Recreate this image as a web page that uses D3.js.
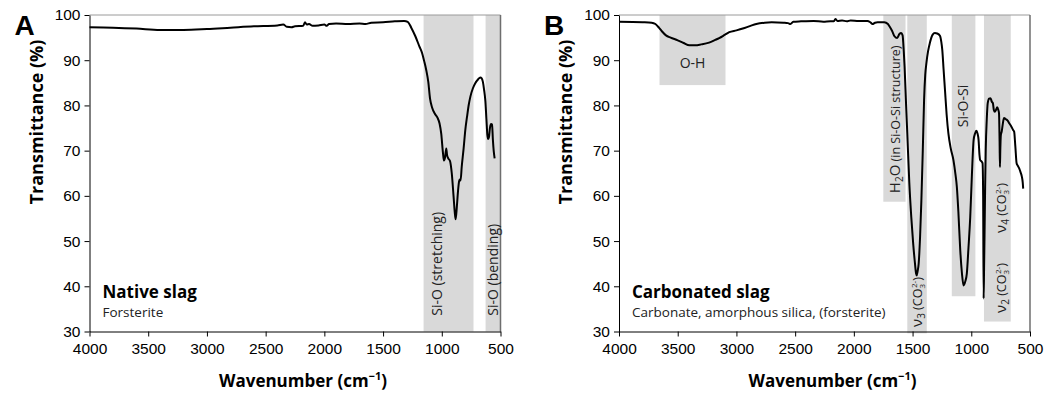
<!DOCTYPE html>
<html>
<head>
<meta charset="utf-8">
<script src="https://cdn.jsdelivr.net/npm/d3@7"></script>
<style>
  body { margin: 0; background: #fff; }
  svg { display: block; }
</style>
</head>
<body>
<svg id="chart" width="1056" height="395"></svg>
<script>
// Axis ticks shared by both spectra
const xTickValues = [4000, 3500, 3000, 2500, 2000, 1500, 1000, 500];
const yTickValues = [30, 40, 50, 60, 70, 80, 90, 100];

// FTIR spectrum of the native slag: wavenumber (cm-1) and transmittance (%)
const nativeWn = [4000, 3800, 3600, 3400, 3200, 3000, 2800, 2600, 2400, 2350, 2320, 2280, 2250, 2180, 2165, 2150, 2130, 2100, 2050, 2000, 1980, 1960, 1900, 1800, 1700, 1650, 1600, 1500, 1400, 1320, 1290, 1260, 1225, 1190, 1168, 1150, 1133, 1115, 1100, 1082, 1060, 1037, 1019, 1005, 990, 982, 972, 962, 955, 945, 930, 915, 900, 890, 882, 872, 862, 852, 846, 840, 830, 814, 800, 785, 770, 756, 735, 715, 690, 672, 660, 650, 640, 629, 620, 612, 605, 598, 590, 580, 572, 565, 558, 550];
const nativeT = [97.3, 97.2, 97.0, 96.7, 96.7, 96.9, 97.2, 97.5, 97.7, 97.9, 97.4, 97.3, 97.5, 97.6, 98.4, 97.9, 98.0, 97.6, 97.7, 97.9, 97.6, 98.0, 98.1, 98.0, 98.1, 98.0, 98.3, 98.4, 98.6, 98.7, 98.5, 97.2, 95.3, 93.0, 91.6, 89.8, 87.9, 85.2, 81.5, 79.5, 78.2, 77.3, 76.0, 73.8, 69.5, 67.8, 68.5, 70.5, 69.0, 68.3, 67.7, 65.0, 60.0, 56.5, 54.8, 57.5, 61.0, 63.3, 63.6, 63.4, 66.5, 70.5, 74.5, 77.5, 80.2, 82.0, 83.8, 84.9, 85.8, 86.2, 86.0, 85.2, 83.5, 81.0, 77.0, 73.5, 72.6, 73.0, 75.0, 75.9, 75.8, 72.5, 70.0, 68.3];

// FTIR spectrum of the carbonated slag
const carbWn = [4000, 3800, 3722, 3690, 3660, 3635, 3600, 3560, 3500, 3450, 3400, 3350, 3300, 3233, 3180, 3147, 3100, 3061, 3000, 2946, 2880, 2831, 2760, 2700, 2600, 2560, 2540, 2516, 2450, 2343, 2260, 2200, 2170, 2157, 2140, 2100, 2060, 2028, 1960, 1884, 1860, 1841, 1820, 1798, 1741, 1710, 1697, 1675, 1654, 1631, 1612, 1597, 1585, 1575, 1568, 1555, 1545, 1528, 1511, 1495, 1482, 1470, 1465, 1458, 1448, 1436, 1425, 1413, 1402, 1392, 1382, 1368, 1353, 1330, 1310, 1290, 1267, 1255, 1247, 1236, 1224, 1210, 1195, 1175, 1152, 1135, 1123, 1110, 1094, 1080, 1066, 1052, 1038, 1024, 1009, 995, 980, 968, 957, 947, 938, 930, 924, 912, 904, 899, 895, 891, 887, 882, 877, 868, 860, 848, 836, 825, 816, 808, 799, 790, 779, 770, 764, 759, 756, 753, 748, 741, 730, 721, 708, 692, 675, 658, 645, 635, 625, 614, 605, 592, 580, 569, 562, 558];
const carbT = [98.5, 98.4, 98.3, 98.0, 97.2, 96.4, 95.5, 95.0, 94.4, 93.8, 93.3, 93.3, 93.5, 93.9, 94.5, 94.9, 95.6, 96.2, 96.6, 97.0, 97.6, 98.0, 98.3, 98.4, 98.3, 98.2, 98.0, 98.5, 98.6, 98.7, 98.5, 98.6, 98.6, 99.1, 98.7, 98.8, 98.6, 98.8, 98.7, 98.7, 98.4, 98.0, 98.3, 98.4, 98.4, 98.0, 97.5, 96.5, 95.3, 94.9, 95.8, 96.0, 95.5, 92.0, 88.6, 80.0, 73.8, 63.0, 55.3, 49.5, 45.7, 42.8, 42.4, 43.2, 45.0, 51.0, 59.0, 70.0, 81.2, 86.8, 89.4, 92.0, 93.8, 95.6, 96.0, 95.9, 95.4, 94.0, 92.3, 88.0, 83.4, 78.0, 73.8, 70.5, 67.9, 64.8, 62.0, 56.5, 48.0, 43.0, 40.2, 41.0, 42.8, 48.5, 55.3, 64.5, 72.4, 73.8, 74.4, 73.8, 72.4, 69.0, 67.9, 67.6, 67.2, 60.0, 37.3, 44.0, 51.7, 62.0, 70.1, 77.0, 80.5, 81.5, 81.6, 80.8, 80.5, 79.0, 78.6, 79.0, 79.6, 79.0, 78.3, 72.0, 66.4, 70.0, 73.5, 74.2, 76.2, 77.2, 77.0, 76.7, 76.0, 75.3, 74.6, 74.2, 71.0, 67.2, 66.7, 66.1, 65.2, 64.2, 63.0, 61.6];

// Assignment bands: [from cm-1, to cm-1, lower edge in %]
const nativeBands = [[1155, 730, 30], [627, 500, 30]];
const carbBands = [[3655, 3093, 84.5], [1749, 1560, 58.7], [1545, 1379, 29.6], [1166, 965, 37.8], [892, 664, 32.2]];

const svg = d3.select("#chart");
const sansText = "'Open Sans', 'Noto Sans', sans-serif";
const tickFont = "'Liberation Sans', Arial, sans-serif";

// Writes a label made of pieces; shift moves a piece below (+) or above (-) the baseline
function addRich(textSel, parts) {
  let shift = 0;
  parts.forEach(p => {
    const target = p.shift || 0;
    const ts = textSel.append("tspan").text(p.t).attr("font-size", p.size);
    if (target - shift) ts.attr("dy", target - shift);
    if (p.dx) ts.attr("dx", p.dx);
    shift = target;
  });
}

function drawPanel(cfg) {
  const g = svg.append("g");
  const x = d3.scaleLinear().domain([4000, 500]).range([cfg.left, cfg.right]);
  const y = d3.scaleLinear().domain([30, 100]).range([331.5, 15]);

  // shaded assignment bands
  g.selectAll("rect.band").data(cfg.bands).join("rect")
    .attr("class", "band")
    .attr("x", d => x(d[0]))
    .attr("width", d => x(d[1]) - x(d[0]))
    .attr("y", y(100))
    .attr("height", d => y(d[2]) - y(100))
    .attr("fill", "#d9d9d9");

  // frame: top and right edges
  g.append("line").attr("x1", cfg.left).attr("x2", cfg.right)
    .attr("y1", y(100)).attr("y2", y(100))
    .attr("stroke", "#9a9a9a").attr("stroke-width", 1);
  g.append("line").attr("x1", cfg.right).attr("x2", cfg.right)
    .attr("y1", y(100)).attr("y2", y(30))
    .attr("stroke", "#6e6e6e").attr("stroke-width", 1.5);

  // spectrum
  const pts = cfg.wn.map((w, i) => [w, cfg.t[i]]);
  g.append("path").datum(pts)
    .attr("fill", "none").attr("stroke", "#000").attr("stroke-width", 2)
    .attr("stroke-linejoin", "round")
    .attr("d", d3.line().x(d => x(d[0])).y(d => y(d[1])).curve(d3.curveMonotoneX));

  // axes
  const xAxis = g.append("g").attr("transform", `translate(0,${y(30)})`)
    .call(d3.axisBottom(x).tickValues(xTickValues).tickFormat(d3.format("d"))
      .tickSize(5).tickSizeOuter(0).tickPadding(6));
  const yAxis = g.append("g").attr("transform", `translate(${cfg.left},0)`)
    .call(d3.axisLeft(y).tickValues(yTickValues).tickFormat(d3.format("d"))
      .tickSize(5).tickSizeOuter(0).tickPadding(4));
  [xAxis, yAxis].forEach(a => {
    a.selectAll("path.domain").attr("stroke", "#000").attr("stroke-width", 1);
    a.selectAll(".tick line").attr("stroke", "#000");
    a.selectAll(".tick text").attr("font-family", tickFont).attr("font-size", 15.5).attr("fill", "#000");
  });

  // axis titles
  const xt = g.append("text")
    .attr("x", (cfg.left + cfg.right) / 2 + 8).attr("y", 387)
    .attr("text-anchor", "middle").attr("font-family", sansText)
    .attr("font-weight", "bold").attr("font-size", 17);
  addRich(xt, [{t: "Wavenumber (cm", size: 17}, {t: "\u22121", size: 11, shift: -7}, {t: ")", size: 17, shift: 0}]);

  g.append("text")
    .attr("transform", `translate(${cfg.left - 47},122) rotate(-90)`)
    .attr("text-anchor", "middle").attr("font-family", sansText)
    .attr("font-weight", "bold").attr("font-size", 18)
    .text("Transmittance (%)");

  // panel letter
  g.append("text").attr("x", cfg.left - 75).attr("y", 35)
    .attr("font-family", tickFont).attr("font-weight", "bold").attr("font-size", 28)
    .text(cfg.letter);

  // sample name and phases
  g.append("text").attr("x", cfg.left + 13).attr("y", 298)
    .attr("font-family", sansText).attr("font-weight", "bold").attr("font-size", 17)
    .text(cfg.name);
  g.append("text").attr("x", cfg.left + 13).attr("y", 317)
    .attr("font-family", sansText).attr("font-size", 13.5).attr("fill", "#222")
    .text(cfg.phases);

  // band labels
  cfg.labels.forEach(l => {
    const t = g.append("text").attr("font-family", sansText).attr("fill", "#222");
    if (l.rotate) {
      t.attr("transform", `translate(${x(l.wn)},${y(l.t)}) rotate(-90)`);
    } else {
      t.attr("x", x(l.wn)).attr("y", y(l.t)).attr("text-anchor", "middle");
    }
    addRich(t, l.parts);
  });
}

const nu = "\u03bd";
const carbonate = n => [
  {t: nu, size: 15}, {t: n, size: 10, shift: 3}, {t: " (CO", size: 12.5, shift: 0},
  {t: "3", size: 8, shift: 3}, {t: "2-", size: 8, shift: -5, dx: -4}, {t: ")", size: 12.5, shift: 0}];

drawPanel({
  letter: "A", left: 89.5, right: 500.5,
  wn: nativeWn, t: nativeT, bands: nativeBands,
  name: "Native slag", phases: "Forsterite",
  labels: [
    {wn: 1000, t: 33.5, rotate: true, parts: [{t: "Si-O (stretching)", size: 14}]},
    {wn: 520, t: 33.5, rotate: true, parts: [{t: "Si-O (bending)", size: 14}]}
  ]
});

drawPanel({
  letter: "B", left: 619, right: 1030,
  wn: carbWn, t: carbT, bands: carbBands,
  name: "Carbonated slag", phases: "Carbonate, amorphous silica, (forsterite)",
  labels: [
    {wn: 3374, t: 88.2, rotate: false, parts: [{t: "O-H", size: 14}]},
    {wn: 1605, t: 60.6, rotate: true, parts: [
      {t: "H", size: 15}, {t: "2", size: 10, shift: 3}, {t: "O", size: 15, shift: 0},
      {t: " (in Si-O-Si structure)", size: 12.5}]},
    {wn: 1420, t: 31, rotate: true, parts: carbonate("3")},
    {wn: 1025, t: 75.2, rotate: true, parts: [{t: "Si-O-Si", size: 14}]},
    {wn: 705, t: 51.8, rotate: true, parts: carbonate("4")},
    {wn: 705, t: 34.1, rotate: true, parts: carbonate("2")}
  ]
});
</script>
</body>
</html>
